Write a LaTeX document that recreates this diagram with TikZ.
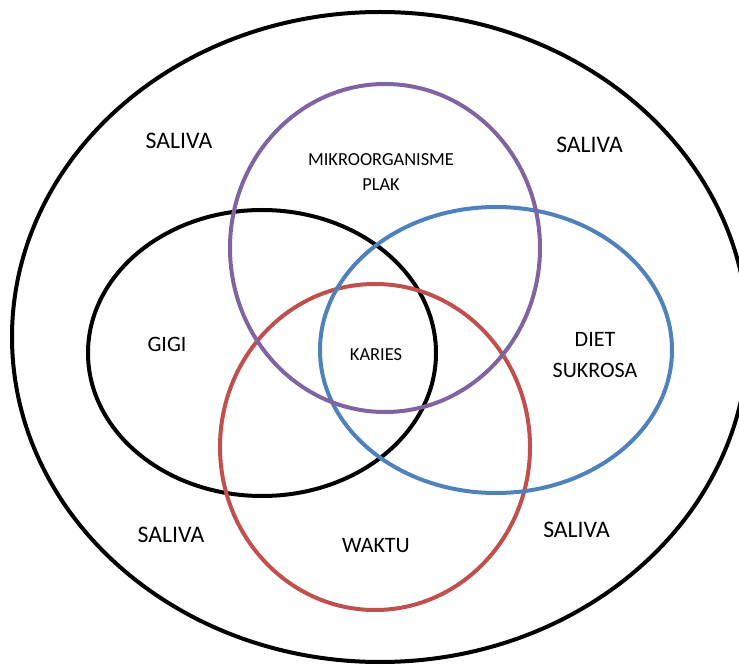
\documentclass[tikz,border=0pt]{standalone}
\usepackage{fontspec}
\setmainfont{Carlito}
\usepackage{tikz}

\begin{document}
\begin{tikzpicture}[x=0.75pt,y=0.75pt,yscale=-1,xscale=1]
\useasboundingbox (0,0) rectangle (739,666);

%Shape: Ellipse [outer]
\draw  [line width=3pt] (380,337) ellipse [x radius=368, y radius=325];
%Shape: Ellipse [gigi]
\draw  [line width=3pt] (262,353) ellipse [x radius=174, y radius=143];
%Shape: Ellipse [waktu]
\draw  [color={rgb, 255:red, 192; green, 80; blue, 77 }, line width=3pt] (375,447) ellipse [x radius=155, y radius=163];
%Shape: Ellipse [diet]
\draw  [color={rgb, 255:red, 79; green, 129; blue, 189 }, line width=3pt] (496,350) ellipse [x radius=176, y radius=143];
%Shape: Ellipse [plak]
\draw  [color={rgb, 255:red, 128; green, 100; blue, 162 }, line width=3pt] (385,248) ellipse [x radius=155, y radius=164];

% Text Node
\node (salivaA) at (179,140.5) [inner sep=0.75pt] [font=\fontsize{17.8}{21}\selectfont] {SALIVA};
% Text Node
\node (salivaB) at (589.5,145) [inner sep=0.75pt] [font=\fontsize{17.8}{21}\selectfont] {SALIVA};
% Text Node
\node (salivaC) at (171,535) [inner sep=0.75pt] [font=\fontsize{17.8}{21}\selectfont] {SALIVA};
% Text Node
\node (salivaD) at (576.5,530) [inner sep=0.75pt] [font=\fontsize{17.8}{21}\selectfont] {SALIVA};
% Text Node
\node (plak) at (381,172.5) [inner sep=0.75pt] [align=center, font=\fontsize{13.8}{18.75}\selectfont] {MIKROORGANISME\\PLAK};
% Text Node
\node (gigi) at (167,344) [inner sep=0.75pt] [font=\fontsize{16.5}{20}\selectfont] {GIGI};
% Text Node
\node (karies) at (376,355) [inner sep=0.75pt] [font=\fontsize{13.8}{18.75}\selectfont] {KARIES};
% Text Node
\node (diet) at (595,355.5) [inner sep=0.75pt] [align=center, font=\fontsize{16.5}{23.25}\selectfont] {DIET\\SUKROSA};
% Text Node
\node (waktu) at (376,546) [inner sep=0.75pt] [font=\fontsize{16.5}{20}\selectfont] {WAKTU};
\end{tikzpicture}
\end{document}
